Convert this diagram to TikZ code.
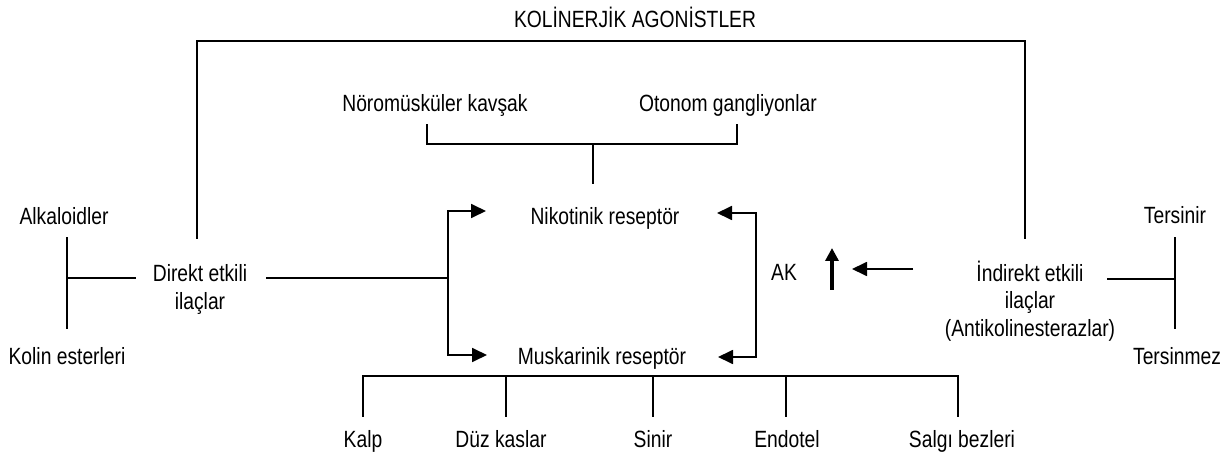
\documentclass[tikz,border=0pt]{standalone}
\usepackage{fontspec}
\setmainfont[FakeStretch=0.82]{Liberation Sans}
\usetikzlibrary{arrows.meta}
\begin{document}
\begin{tikzpicture}[x=1pt,y=-1pt,
  lbl/.style={inner sep=0pt, font=\fontsize{23.5}{27.5}\selectfont},
  lblb/.style={lbl, anchor=base},
  ln/.style={line width=1.8pt, line cap=rect},
  arr/.style={line width=1.8pt, -{Triangle[length=15pt,width=14pt]}},
  bigarr/.style={line width=4pt, -{Triangle[length=13pt,width=13pt]}}]
\useasboundingbox (0,0) rectangle (1232,454);

% labels
\node[lblb] (title) at (635,28) {KOLİNERJİK AGONİSTLER};
\node[lblb] (nmk)   at (435,112) {Nöromüsküler kavşak};
\node[lblb] (og)    at (728,112) {Otonom gangliyonlar};
\node[lblb] (nik)   at (605,225) {Nikotinik reseptör};
\node[lblb] (mus)   at (602,364) {Muskarinik reseptör};
\node[lblb] (alk)   at (64,225)  {Alkaloidler};
\node[lblb] (kol)   at (67,365)  {Kolin esterleri};
\node[lbl, align=center] (dir) at (200,289.5) {Direkt etkili\\ilaçlar};
\node[lbl, align=center] (ind) at (1030,301) {İndirekt etkili\\ilaçlar\\(Antikolinesterazlar)};
\node[lblb] (ak)    at (784,281)  {AK};
\node[lblb] (ters)  at (1175,224) {Tersinir};
\node[lblb] (tersm) at (1177,364) {Tersinmez};
\node[lblb] (kalp)  at (363,447) {Kalp};
\node[lblb] (duz)   at (501,447) {Düz kaslar};
\node[lblb] (sinir) at (653,447) {Sinir};
\node[lblb] (endo)  at (787,447) {Endotel};
\node[lblb] (salgi) at (962,447) {Salgı bezleri};

% junction points
\coordinate (boxL)  at (197,238);
\coordinate (boxTL) at (197,41);
\coordinate (boxTR) at (1025,41);
\coordinate (boxR)  at (1025,238);

\coordinate (brL)  at (427,125);
\coordinate (brR)  at (737,125);
\coordinate (brM)  at (593,144);
\coordinate (brS)  at (593,183);

\coordinate (dirE)  at (267,278);
\coordinate (dirJ)  at (448,278);
\coordinate (nikL)  at (486,211);
\coordinate (musL)  at (487,355);

\coordinate (dirW)  at (135,278);
\coordinate (lJ)    at (67,278);
\coordinate (lT)    at (67,238);
\coordinate (lB)    at (67,328);

\coordinate (rJ)    at (756,285);
\coordinate (nikR)  at (717,213);
\coordinate (musR)  at (718,357);

\coordinate (indW)  at (913,269);
\coordinate (akT)   at (852,269);
\coordinate (upB)   at (832,290);
\coordinate (upT)   at (832,248);

\coordinate (indE)  at (1108,279);
\coordinate (rrJ)   at (1175,279);
\coordinate (rrT)   at (1175,238);
\coordinate (rrB)   at (1175,328);

\coordinate (mbar)  at (602,376);
\coordinate (kalpT) at (363,416);
\coordinate (duzT)  at (506,416);
\coordinate (sinT)  at (653,416);
\coordinate (endT)  at (786,416);
\coordinate (salT)  at (958,416);

% outer frame from direct to indirect agents
\draw[ln] (boxL) -- (boxTL) -- (boxTR) -- (boxR);

% nicotinic sites
\draw[ln] (brL) |- (brM) -| (brR);
\draw[ln] (brM) -- (brS);

% direct agents to both receptors
\draw[ln] (dirE) -- (dirJ);
\draw[arr] (dirJ) |- (nikL);
\draw[arr] (dirJ) |- (musL);

% direct agent classes
\draw[ln] (dirW) -- (lJ);
\draw[ln] (lT) -- (lB);

% acetylcholine to both receptors
\draw[arr] (rJ) |- (nikR);
\draw[arr] (rJ) |- (musR);

% indirect agents raise acetylcholine
\draw[arr] (indW) -- (akT);
\draw[bigarr] (upB) -- (upT);

% indirect agent classes
\draw[ln] (indE) -- (rrJ);
\draw[ln] (rrT) -- (rrB);

% muscarinic targets
\draw[ln] (kalpT) |- (mbar) -| (salT);
\draw[ln] (duzT) -- (duzT |- mbar);
\draw[ln] (sinT) -- (sinT |- mbar);
\draw[ln] (endT) -- (endT |- mbar);
\end{tikzpicture}
\end{document}
